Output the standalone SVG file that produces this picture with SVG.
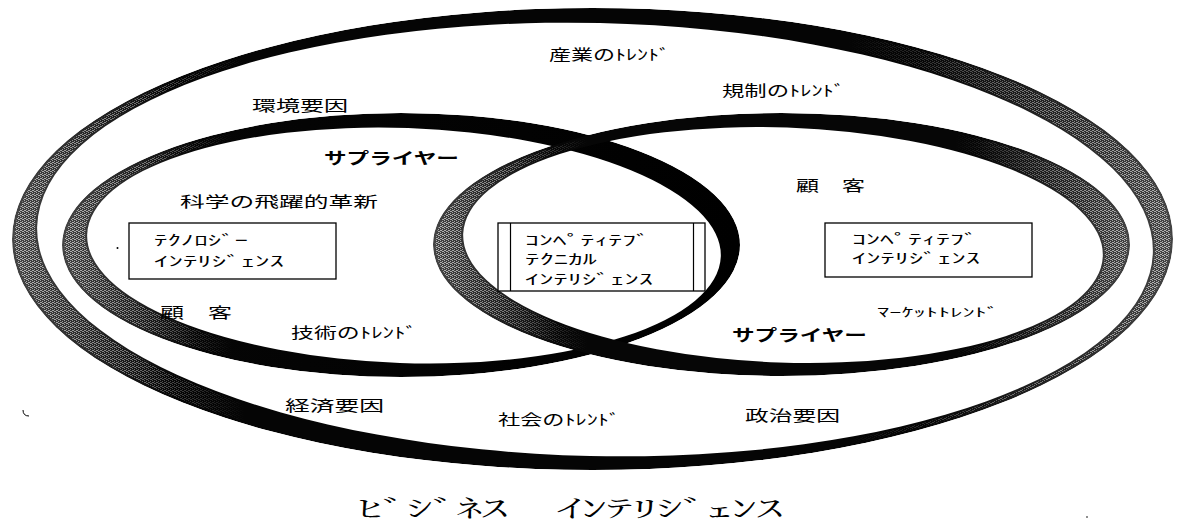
<svg xmlns="http://www.w3.org/2000/svg" width="1179" height="523" viewBox="0 0 1179 523">
<style>
.t{font-family:"Noto Sans CJK JP","Noto Sans",sans-serif;font-size:15px;fill:#000;dominant-baseline:central}
.b{font-weight:700;font-size:16px}
.s{font-size:14px}
.xs{font-size:12px}
.ttl{font-family:"Noto Serif CJK JP","Noto Sans CJK JP",serif;font-size:24px;font-weight:300}
.box{fill:#fff;stroke:#000;stroke-width:1.3}
</style>
<defs>
<pattern id="speck" width="4" height="4" patternUnits="userSpaceOnUse">
<rect x="0" y="0" width="1" height="1" fill="#fff"/>
<rect x="2" y="1" width="1" height="1" fill="#fff"/>
<rect x="1" y="2" width="1" height="1" fill="#fff"/>
<rect x="3" y="3" width="1" height="1" fill="#fff"/>
<rect x="2" y="3" width="1" height="1" fill="#fff"/>
<rect x="0" y="2" width="1" height="1" fill="#fff"/>
</pattern>
<linearGradient id="gOuter" x1="0" y1="0" x2="1" y2="0">
<stop offset="0" stop-color="#444"/><stop offset="0.06" stop-color="#2a2a2a"/><stop offset="0.14" stop-color="#050505"/>
<stop offset="0.78" stop-color="#050505"/><stop offset="0.92" stop-color="#2a2a2a"/><stop offset="1" stop-color="#444"/>
</linearGradient>
<linearGradient id="gLeft" x1="0" y1="0" x2="1" y2="0">
<stop offset="0" stop-color="#444"/><stop offset="0.08" stop-color="#2a2a2a"/><stop offset="0.2" stop-color="#050505"/><stop offset="1" stop-color="#000"/>
</linearGradient>
<linearGradient id="gRight" x1="0" y1="0" x2="1" y2="0">
<stop offset="0" stop-color="#444"/><stop offset="0.07" stop-color="#2a2a2a"/><stop offset="0.18" stop-color="#060606"/>
<stop offset="0.78" stop-color="#060606"/><stop offset="0.93" stop-color="#2a2a2a"/><stop offset="1" stop-color="#444"/>
</linearGradient>
<linearGradient id="eOuter" x1="0" y1="0" x2="1" y2="0">
<stop offset="0" stop-color="#999"/><stop offset="0.1" stop-color="#666"/><stop offset="0.2" stop-color="#000"/>
<stop offset="0.72" stop-color="#000"/><stop offset="0.88" stop-color="#666"/><stop offset="1" stop-color="#999"/>
</linearGradient>
<linearGradient id="eLeft" x1="0" y1="0" x2="1" y2="0">
<stop offset="0" stop-color="#999"/><stop offset="0.12" stop-color="#666"/><stop offset="0.25" stop-color="#000"/><stop offset="1" stop-color="#000"/>
</linearGradient>
<linearGradient id="eRight" x1="0" y1="0" x2="1" y2="0">
<stop offset="0" stop-color="#999"/><stop offset="0.1" stop-color="#666"/><stop offset="0.22" stop-color="#000"/>
<stop offset="0.75" stop-color="#000"/><stop offset="0.9" stop-color="#666"/><stop offset="1" stop-color="#999"/>
</linearGradient>
<mask id="mOuter" maskUnits="userSpaceOnUse" x="0" y="0" width="1179" height="523">
<ellipse cx="592.5" cy="239" rx="580.5" ry="231" fill="#fff"/>
<ellipse cx="595" cy="239.5" rx="558" ry="216.5" fill="#000" transform="rotate(1.3 595 239.5)"/>
</mask>
<mask id="sOuter" maskUnits="userSpaceOnUse" x="0" y="0" width="1179" height="523">
<ellipse cx="592.5" cy="239" rx="578" ry="228.5" fill="url(#eOuter)"/>
<ellipse cx="595" cy="239.5" rx="560" ry="218.5" fill="#000" transform="rotate(1.3 595 239.5)"/>
</mask>
<mask id="mLeft" maskUnits="userSpaceOnUse" x="0" y="0" width="1179" height="523">
<ellipse cx="401" cy="245" rx="339" ry="132" fill="#fff"/>
<ellipse cx="404" cy="245.5" rx="317" ry="117.5" fill="#000" transform="rotate(2 404 245.5)"/>
</mask>
<mask id="sLeft" maskUnits="userSpaceOnUse" x="0" y="0" width="1179" height="523">
<ellipse cx="401" cy="245" rx="336.5" ry="129.5" fill="url(#eLeft)"/>
<ellipse cx="404" cy="245.5" rx="319" ry="119.5" fill="#000" transform="rotate(2 404 245.5)"/>
</mask>
<mask id="mRight" maskUnits="userSpaceOnUse" x="0" y="0" width="1179" height="523">
<ellipse cx="781.5" cy="244.5" rx="348.5" ry="131.5" fill="#fff"/>
<ellipse cx="783" cy="245" rx="320" ry="117.5" fill="#000" transform="rotate(2 783 245)"/>
</mask>
<mask id="sRight" maskUnits="userSpaceOnUse" x="0" y="0" width="1179" height="523">
<ellipse cx="781.5" cy="244.5" rx="346" ry="129" fill="url(#eRight)"/>
<ellipse cx="783" cy="245" rx="322" ry="119.5" fill="#000" transform="rotate(2 783 245)"/>
</mask>
</defs>
<rect width="1179" height="523" fill="#fff"/>

<g id="ring-business">
<ellipse cx="592.5" cy="239" rx="580.5" ry="231" fill="url(#gOuter)" mask="url(#mOuter)"/>
<rect width="1179" height="523" fill="url(#speck)" mask="url(#sOuter)"/>
</g>
<g id="ring-left">
<ellipse cx="401" cy="245" rx="339" ry="132" fill="url(#gLeft)" mask="url(#mLeft)"/>
<rect width="1179" height="523" fill="url(#speck)" mask="url(#sLeft)"/>
</g>
<g id="ring-right">
<ellipse cx="781.5" cy="244.5" rx="348.5" ry="131.5" fill="url(#gRight)" mask="url(#mRight)"/>
<rect width="1179" height="523" fill="url(#speck)" mask="url(#sRight)"/>
</g>

<g id="box-tech">
<rect class="box" x="129" y="223" width="207" height="56"/>
<text class="t s" x="154" y="239" textLength="94" lengthAdjust="spacingAndGlyphs">ﾃｸﾉﾛｼﾞｰ</text>
<text class="t s" x="154" y="260" textLength="130" lengthAdjust="spacingAndGlyphs">ｲﾝﾃﾘｼﾞｪﾝｽ</text>
</g>
<g id="box-ctech">
<rect class="box" x="498" y="223" width="207" height="68"/>
<line x1="510.5" y1="223" x2="510.5" y2="291" stroke="#000" stroke-width="1.2"/>
<line x1="693.5" y1="223" x2="693.5" y2="291" stroke="#000" stroke-width="1.2"/>
<text class="t s" x="525" y="239" textLength="125" lengthAdjust="spacingAndGlyphs">ｺﾝﾍﾟﾃｨﾃﾌﾞ</text>
<text class="t s" x="525" y="258" textLength="72" lengthAdjust="spacingAndGlyphs">ﾃｸﾆｶﾙ</text>
<text class="t s" x="525" y="278" textLength="128" lengthAdjust="spacingAndGlyphs">ｲﾝﾃﾘｼﾞｪﾝｽ</text>
</g>
<g id="box-ci">
<rect class="box" x="825" y="223" width="207" height="54"/>
<text class="t s" x="852" y="238" textLength="126" lengthAdjust="spacingAndGlyphs">ｺﾝﾍﾟﾃｨﾃﾌﾞ</text>
<text class="t s" x="852" y="257" textLength="128" lengthAdjust="spacingAndGlyphs">ｲﾝﾃﾘｼﾞｪﾝｽ</text>
</g>

<g id="labels">
<text class="t" x="549" y="53" textLength="121" lengthAdjust="spacingAndGlyphs">産業のﾄﾚﾝﾄﾞ</text>
<text class="t" x="722" y="89" textLength="123" lengthAdjust="spacingAndGlyphs">規制のﾄﾚﾝﾄﾞ</text>
<text class="t" x="252" y="104" textLength="96" lengthAdjust="spacingAndGlyphs">環境要因</text>
<text class="t b" x="324" y="157" textLength="135" lengthAdjust="spacingAndGlyphs">サプライヤー</text>
<text class="t" x="180" y="200" textLength="198" lengthAdjust="spacingAndGlyphs">科学の飛躍的革新</text>
<text class="t" x="796" y="184" textLength="69" lengthAdjust="spacingAndGlyphs">顧　客</text>
<text class="t" x="160" y="311" textLength="72" lengthAdjust="spacingAndGlyphs">顧　客</text>
<text class="t" x="291" y="331" textLength="126" lengthAdjust="spacingAndGlyphs">技術のﾄﾚﾝﾄﾞ</text>
<text class="t xs" x="877" y="311" textLength="122" lengthAdjust="spacingAndGlyphs">ﾏｰｹｯﾄﾄﾚﾝﾄﾞ</text>
<text class="t b" x="732" y="334" textLength="135" lengthAdjust="spacingAndGlyphs">サプライヤー</text>
<text class="t" x="285" y="404" textLength="99" lengthAdjust="spacingAndGlyphs">経済要因</text>
<text class="t" x="498" y="418" textLength="122" lengthAdjust="spacingAndGlyphs">社会のﾄﾚﾝﾄﾞ</text>
<text class="t" x="745" y="414" textLength="95" lengthAdjust="spacingAndGlyphs">政治要因</text>
<text class="t ttl" x="357" y="506" textLength="425" lengthAdjust="spacingAndGlyphs" xml:space="preserve">ﾋﾞｼﾞﾈｽ　ｲﾝﾃﾘｼﾞｪﾝｽ</text>
</g>

<g id="specks" fill="none" stroke="#000" stroke-width="1">
<path d="M23 410 q0 6 6 6"/>
<circle cx="117.5" cy="248" r="1" fill="#000" stroke="none"/>
<circle cx="1087" cy="517" r="0.8" fill="#000" stroke="none"/>
</g>
</svg>
